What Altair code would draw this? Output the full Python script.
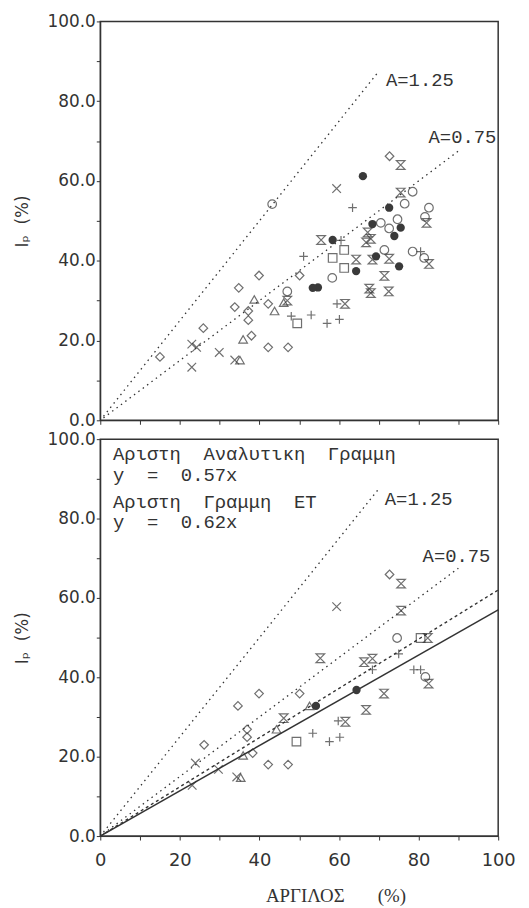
import altair as alt
import pandas as pd

# ---------------- data ----------------
top_x = [15.0, 25.9, 33.8, 37.2, 37.2, 38.0, 42.2, 47.2, 42.2, 34.8, 39.9, 50.1, 72.7,
         23.0, 24.2, 23.0, 29.9, 33.8, 59.4,
         35.1, 35.9, 38.7, 43.8, 46.1,
         48.0, 53.0, 57.0, 60.1, 59.5, 51.1, 60.5, 63.4, 80.5,
         49.5, 58.4, 61.3, 61.3,
         61.5, 47.0, 55.5, 66.8, 67.2, 68.0, 64.3, 68.4, 72.6, 71.4, 67.6, 68.0, 72.5, 82.6, 82.0, 75.5, 75.5,
         43.2, 47.0, 58.3, 78.5, 76.5, 82.6, 81.6, 70.5, 74.7, 72.6, 71.4, 81.4, 78.5,
         66.0, 72.6, 68.4, 73.9, 75.5, 58.4, 64.3, 69.3, 75.1, 54.7, 53.4]
top_y = [15.9, 23.1, 28.4, 27.4, 25.1, 21.2, 18.3, 18.3, 29.2, 33.2, 36.3, 36.3, 66.2,
         19.1, 18.3, 13.3, 17.0, 15.1, 58.1,
         15.1, 20.3, 30.3, 27.4, 29.5,
         26.1, 26.4, 24.3, 25.3, 29.2, 41.1, 45.1, 53.3, 42.3,
         24.3, 40.7, 42.7, 38.2,
         29.2, 30.0, 45.2, 44.6, 47.1, 45.5, 40.3, 40.3, 40.5, 36.2, 33.0, 31.9, 32.3, 39.2, 49.5, 57.1, 64.0,
         54.2, 32.3, 35.7, 57.3, 54.3, 53.3, 51.0, 49.5, 50.4, 48.1, 42.7, 40.7, 42.3,
         61.2, 53.3, 49.2, 46.2, 48.3, 45.2, 37.4, 41.1, 38.6, 33.3, 33.2]
top_s = (["diamond"] * 13 + ["x"] * 6 + ["triangle"] * 5 + ["plus"] * 9 + ["square"] * 4 +
         ["hourglass"] * 17 + ["circle"] * 13 + ["filled"] * 11)

bot_x = [72.7, 50.1, 39.9, 34.6, 36.9, 36.9, 26.1, 38.3, 42.2, 47.2,
         75.6, 75.6, 82.3, 55.3, 66.3, 68.4, 82.5, 71.3, 66.8, 46.1, 61.6,
         59.4, 23.9, 29.7, 34.3, 23.1,
         74.6, 81.7,
         80.5, 49.3,
         75.0, 68.4, 78.8, 80.5, 59.8, 53.4, 57.6, 60.2,
         64.4, 54.2,
         52.6, 44.3, 35.9, 35.3]
bot_y = [65.9, 35.9, 35.9, 32.8, 26.9, 24.9, 23.0, 20.9, 18.0, 18.0,
         63.6, 56.8, 49.9, 44.8, 43.8, 44.7, 38.4, 35.9, 31.8, 29.7, 28.8,
         57.8, 18.4, 16.8, 14.9, 12.8,
         49.9, 40.1,
         49.9, 23.8,
         45.9, 41.9, 41.9, 41.9, 29.0, 25.9, 23.8, 24.9,
         36.8, 32.8,
         32.8, 26.9, 20.3, 14.7]
bot_s = (["diamond"] * 10 + ["hourglass"] * 11 + ["x"] * 5 + ["circle"] * 2 + ["square"] * 2 +
         ["plus"] * 8 + ["filled"] * 2 + ["triangle"] * 4)

# reference lines (activity lines and best-fit lines)
act_slopes = [1.25, 0.75]
act_ends = [70, 90]
act_labels = ["A=1.25", "A=0.75"]
fit_slopes = [0.57, 0.62]

tick_vals = list(range(0, 101, 10))

shape_domain = ["diamond", "x", "plus", "hourglass", "circle", "square", "triangle"]
shape_range = ["diamond",
               "M-1,-1L1,1M-1,1L1,-1",
               "M-1,0L1,0M0,-1L0,1",
               "M-1,-1L1,-1L-1,1L1,1Z",
               "circle",
               "square",
               "triangle-up"]

INK = "#333333"
W = 401
NB = "\u00a0"


def make_df(xs, ys, ss):
    return pd.DataFrame({"x": xs, "y": ys, "s": ss})


def act_lines():
    rows = []
    for k, (a, e) in enumerate(zip(act_slopes, act_ends)):
        rows.append({"x": 0.8, "y": 0.8 * a, "k": act_labels[k]})
        rows.append({"x": e, "y": e * a, "k": act_labels[k]})
    return pd.DataFrame(rows)


def panel(df, height, bottom, ann, extra_lines=None):
    xs = alt.Scale(domain=[0, 100], nice=False, zero=True)
    ys = alt.Scale(domain=[0, 100], nice=False)
    if bottom:
        xaxis = alt.Axis(values=tick_vals,
                         labelExpr="datum.value % 20 == 0 ? format(datum.value, 'd') : ''",
                         title="ΑΡΓΙΛΟΣ" + NB * 7 + "(%)", titleFont="Liberation Serif",
                         titleFontSize=19, titleFontWeight="normal", titleColor=INK,
                         titleX=237, titlePadding=17,
                         labelFont="DejaVu Sans", labelFontSize=18, labelColor=INK,
                         labelPadding=12, tickSize=4, tickColor=INK, domainColor=INK,
                         grid=False, labelFlush=False)
    else:
        xaxis = alt.Axis(values=tick_vals, labels=False, title=None, tickSize=4,
                         tickColor=INK, domainColor=INK, grid=False)
    yaxis = alt.Axis(values=tick_vals,
                     labelExpr="datum.value % 20 == 0 ? format(datum.value, '.1f') : ''",
                     title="Iₚ" + NB * 2 + "(%)", titleFont="DejaVu Sans", titleFontSize=17,
                     titleFontWeight="normal", titleColor=INK, titlePadding=16,
                     labelFont="DejaVu Sans", labelFontSize=17, labelColor=INK,
                     labelPadding=1, tickSize=4, tickColor=INK, domainColor=INK,
                     grid=False, labelFlush=False)

    base_x = alt.X("x:Q", scale=xs, axis=xaxis)
    base_y = alt.Y("y:Q", scale=ys, axis=yaxis)

    lines = alt.Chart(act_lines()).mark_line(
        color=INK, strokeWidth=1.3, strokeDash=[1.5, 4]
    ).encode(x=base_x, y=base_y, detail="k:N")

    layers = [lines]
    if extra_lines is not None:
        layers += extra_lines(base_x, base_y)

    open_pts = alt.Chart(df[df.s != "filled"]).mark_point(
        filled=False, color=INK, strokeWidth=1.2, size=75
    ).encode(
        x=base_x, y=base_y,
        shape=alt.Shape("s:N", scale=alt.Scale(domain=shape_domain, range=shape_range), legend=None),
    )
    filled_pts = alt.Chart(df[df.s == "filled"]).mark_point(
        filled=True, color="#3a3a3a", size=70, shape="circle", opacity=1
    ).encode(x=base_x, y=base_y)
    layers += [open_pts, filled_pts]

    labels = alt.Chart(ann).mark_text(
        font="Liberation Mono", fontSize=19, color=INK, align="left", baseline="middle"
    ).encode(x=base_x, y=base_y, text="t:N")
    layers.append(labels)

    return alt.layer(*layers).properties(width=W, height=height)


def fit_layers(bx, by):
    solid = pd.DataFrame({"x": [0, 100], "y": [0, 100 * fit_slopes[0]]})
    dashed = pd.DataFrame({"x": [0, 100], "y": [0, 100 * fit_slopes[1]]})
    return [
        alt.Chart(solid).mark_line(color=INK, strokeWidth=1.5).encode(x=bx, y=by),
        alt.Chart(dashed).mark_line(color=INK, strokeWidth=1.4, strokeDash=[3, 3]).encode(x=bx, y=by),
    ]


top_ann = pd.DataFrame({"x": [71.8, 82.5], "y": [85.4, 71.0], "t": act_labels})
bot_ann = pd.DataFrame({
    "x": [71.5, 81.0, 3.2, 3.2, 3.2, 3.2],
    "y": [85.0, 70.5, 96.2, 91.0, 84.2, 79.2],
    "t": act_labels + ["Αριστη" + NB * 2 + "Αναλυτικη" + NB * 2 + "Γραμμη",
                       "y" + NB * 2 + "=" + NB * 2 + "0.57x",
                       "Αριστη" + NB * 2 + "Γραμμη" + NB * 2 + "ET",
                       "y" + NB * 2 + "=" + NB * 2 + "0.62x"],
})

top = panel(make_df(top_x, top_y, top_s), 402, False, top_ann)
bot = panel(make_df(bot_x, bot_y, bot_s), 400, True, bot_ann, fit_layers)

chart = alt.vconcat(top, bot, spacing=0).properties(
    padding={"left": 4, "top": 0, "right": 5, "bottom": 0},
    background="white",
).configure_view(stroke=INK, strokeWidth=1.5)

chart.save("out.html", embed_options={"renderer": "svg", "actions": False})
